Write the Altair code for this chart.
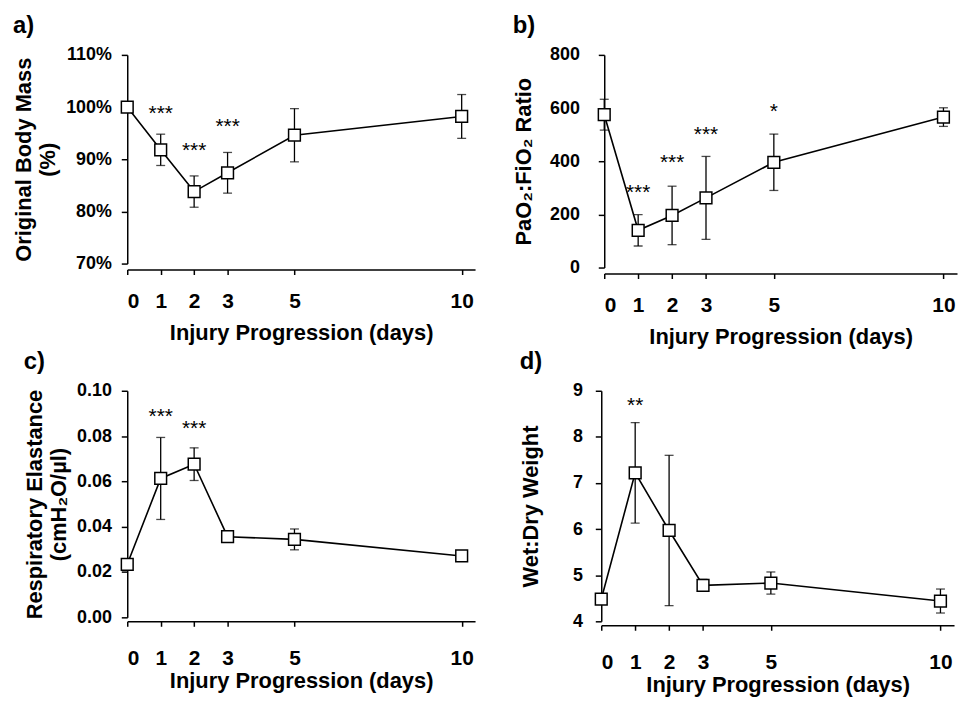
import altair as alt
import pandas as pd

# ---------------- data ----------------
days = [0, 1, 2, 3, 5, 10]

mass_mean = [100.0, 91.8, 83.8, 87.4, 94.6, 98.2]
mass_err = [0.0, 3.0, 3.0, 3.9, 5.1, 4.2]

pf_mean = [575, 140, 196, 262, 396, 566]
pf_err = [58, 59, 110, 156, 106, 35]

el_mean = [0.0234, 0.0613, 0.0676, 0.0356, 0.0344, 0.0271]
el_err = [0.0008, 0.0181, 0.0072, 0.0012, 0.0046, 0.0008]

wd_mean = [4.48, 7.22, 5.97, 4.78, 4.83, 4.44]
wd_err = [0.05, 1.09, 1.63, 0.13, 0.24, 0.26]

star_a_days = [1, 2, 3]
star_a_y = [99.0, 92.0, 96.5]
star_a_txt = ["***", "***", "***"]

star_b_days = [1, 2, 3, 5]
star_b_y = [287, 402, 505, 591]
star_b_txt = ["***", "***", "***", "*"]

star_c_days = [1, 2]
star_c_y = [0.0893, 0.0839]
star_c_txt = ["***", "***"]

star_d_days = [1]
star_d_y = [8.72]
star_d_txt = ["**"]

x_ticks = [0, 1, 2, 3, 5, 10]
FONT = "Liberation Sans"


def panel(mean, err, sdays, sy, stxt, ytitle, ydomain, yticks, label_expr,
          letter, width, height, ylab_pad, ytitle_pad, xoff, xlab_pad,
          xtitle_pad):
    df = pd.DataFrame({"day": days, "mean": mean, "err": err})
    df["lo"] = df["mean"] - df["err"]
    df["hi"] = df["mean"] + df["err"]
    sdf = pd.DataFrame({"day": sdays, "y": sy, "txt": stxt})

    xscale = alt.Scale(domain=[0, 10.4], nice=False, zero=False)
    yscale = alt.Scale(domain=ydomain, nice=False, zero=False)
    xaxis = alt.Axis(values=x_ticks, title="Injury Progression (days)",
                     offset=xoff, labelPadding=xlab_pad,
                     titlePadding=xtitle_pad, tickSize=5)
    yaxis = alt.Axis(values=yticks, title=ytitle, labelExpr=label_expr,
                     tickSize=6, labelPadding=ylab_pad,
                     titlePadding=ytitle_pad)

    X = lambda: alt.X("day:Q", scale=xscale, axis=xaxis)
    base = alt.Chart(df)

    rule = base.mark_rule(color="black", strokeWidth=1.3).encode(
        x=X(), y=alt.Y("lo:Q", scale=yscale, axis=yaxis), y2="hi:Q")
    cap_hi = base.mark_tick(orient="horizontal", size=9, thickness=1.3,
                            color="black").encode(
        x=X(), y=alt.Y("hi:Q", scale=yscale, axis=yaxis))
    cap_lo = base.mark_tick(orient="horizontal", size=9, thickness=1.3,
                            color="black").encode(
        x=X(), y=alt.Y("lo:Q", scale=yscale, axis=yaxis))
    line = base.mark_line(color="black", strokeWidth=1.6).encode(
        x=X(), y=alt.Y("mean:Q", scale=yscale, axis=yaxis))
    pts = base.mark_point(shape="square", filled=True, fill="white",
                          stroke="black", strokeWidth=1.5, size=140,
                          opacity=1).encode(
        x=X(), y=alt.Y("mean:Q", scale=yscale, axis=yaxis))
    stars = alt.Chart(sdf).mark_text(font=FONT, fontSize=21, color="black",
                                     baseline="middle", dy=2).encode(
        x=X(), y=alt.Y("y:Q", scale=yscale, axis=yaxis), text="txt:N")

    return alt.layer(rule, cap_hi, cap_lo, line, pts, stars).properties(
        width=width, height=height,
        title=alt.TitleParams(letter, anchor="start", frame="bounds",
                              fontSize=24, font=FONT, fontWeight="bold",
                              offset=8))


a = panel(mass_mean, mass_err, star_a_days, star_a_y, star_a_txt,
          ["Original Body Mass", "(%)"], [70, 110], [70, 80, 90, 100, 110],
          "datum.value + '%'", "a)", 350, 210, 10, 6, 6, 16, 11)
b = panel(pf_mean, pf_err, star_b_days, star_b_y, star_b_txt,
          "PaO\u2082:FiO\u2082 Ratio", [0, 800], [0, 200, 400, 600, 800],
          "format(datum.value, 'd')", "b)", 355, 214, 19, 14, 6, 16, 11)
c = panel(el_mean, el_err, star_c_days, star_c_y, star_c_txt,
          ["Respiratory Elastance", "(cmH\u2082O/\u00b5l)"], [0, 0.1],
          [0, 0.02, 0.04, 0.06, 0.08, 0.1],
          "format(datum.value, '.2f')", "c)", 350, 228, 10, 6, 4, 21, 3)
d = panel(wd_mean, wd_err, star_d_days, star_d_y, star_d_txt,
          "Wet:Dry Weight", [4, 9], [4, 5, 6, 7, 8, 9],
          "format(datum.value, 'd')", "d)", 355, 232, 13, 30, 4, 21, 3)

chart = alt.vconcat(
    alt.hconcat(a, b, spacing=37),
    alt.hconcat(c, d, spacing=44),
    spacing=3,
).properties(padding={"left": 4, "top": 4, "right": 2, "bottom": 2}
).configure_view(stroke=None).configure_axis(
    grid=False, domainColor="black", tickColor="black", labelColor="black",
    titleColor="black", labelFont=FONT, titleFont=FONT,
    labelFontWeight="bold", titleFontWeight="bold",
    labelFontSize=18, titleFontSize=22, domainWidth=1.5, tickWidth=1.5,
).configure_axisX(labelFontSize=21)

chart.save("out.html", embed_options={"renderer": "svg", "actions": False})
